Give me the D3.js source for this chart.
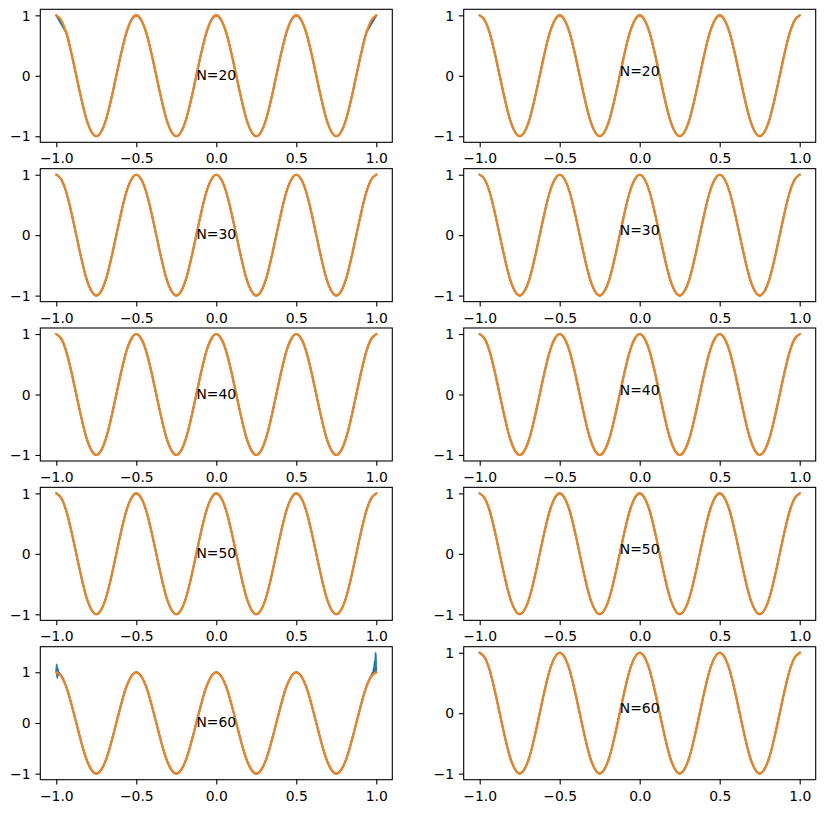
<!DOCTYPE html>
<html>
<head>
<meta charset="utf-8">
<script src="https://cdn.jsdelivr.net/npm/d3@7"></script>
<style>
  body { margin: 0; background: #fff; }
  svg { display: block; }
  text { font-family: "DejaVu Sans", sans-serif; }
</style>
</head>
<body>
<div id="chart"></div>
<script>
// one label per row, rows go N=20..60
const nValues = [20, 30, 40, 50, 60];
const xTicks = [-1, -0.5, 0, 0.5, 1];
const yTicks = [-1, 0, 1];

// sample grid, step 1/32 from -1 to 1
const sampleX = d3.range(65).map(i => -1 + i / 32);
// curve heights at each sample
const exactY = [
  1, 0.92, 0.71, 0.38, 0, -0.38, -0.71, -0.92, -1, -0.92, -0.71, -0.38, 0, 0.38, 0.71, 0.92,
  1, 0.92, 0.71, 0.38, 0, -0.38, -0.71, -0.92, -1, -0.92, -0.71, -0.38, 0, 0.38, 0.71, 0.92,
  1, 0.92, 0.71, 0.38, 0, -0.38, -0.71, -0.92, -1, -0.92, -0.71, -0.38, 0, 0.38, 0.71, 0.92,
  1, 0.92, 0.71, 0.38, 0, -0.38, -0.71, -0.92, -1, -0.92, -0.71, -0.38, 0, 0.38, 0.71, 0.92,
  1
];

// where the blue (interpolated) curve leaves the orange one, left column only
const edgeN20Left = [[-1, 1], [-0.99, 0.955], [-0.98, 0.91], [-0.97, 0.865], [-0.96, 0.82], [-0.95, 0.775]];
const edgeN20Right = [[0.95, 0.775], [0.96, 0.82], [0.97, 0.865], [0.98, 0.91], [0.99, 0.955], [1, 1]];
const edgeN60Left = [[-1, 1.0], [-0.997, 1.15], [-0.994, 0.89], [-0.991, 1.07], [-0.987, 0.95],
  [-0.983, 0.99], [-0.975, 0.955], [-0.965, 0.91]];
const edgeN60Right = [[0.965, 0.91], [0.972, 0.95], [0.976, 0.99], [0.98, 0.95], [0.984, 1.08],
  [0.987, 0.99], [0.99, 1.22], [0.993, 1.01], [0.996, 1.385], [0.998, 1.05], [1, 1.0]];

const width = 825, height = 813;
const colX = [40.3, 463.7];
const axW = 352, axH = 133;
const rowStep = 159.35, rowTop = 9.3;
const fontSize = 13.9;
const tickLen = 4.86;

const basePoints = sampleX.map((x, i) => [x, exactY[i]]);

let blueFor = (row, col) => {
  if (col !== 0) return basePoints;
  let edges = null;
  if (nValues[row] === 20) edges = [edgeN20Left, edgeN20Right];
  if (nValues[row] === 60) edges = [edgeN60Left, edgeN60Right];
  if (!edges) return basePoints;
  let lo = edges[0][edges[0].length - 1][0];
  let hi = edges[1][0][0];
  let mid = basePoints.filter(p => p[0] > lo && p[0] < hi);
  return edges[0].concat(mid, edges[1]);
};

let svg = d3.select("#chart")
  .append("svg")
  .attr("width", width)
  .attr("height", height);

let line = (x, y) => d3.line()
  .x(d => x(d[0]))
  .y(d => y(d[1]))
  .curve(d3.curveMonotoneX);

nValues.forEach((n, row) => {
  [0, 1].forEach(col => {
    let blue = blueFor(row, col);
    let all = blue.concat(basePoints);
    let ext = d3.extent(all, d => d[1]);
    let padY = (ext[1] - ext[0]) * 0.05;

    let x = d3.scaleLinear().domain([-1.1, 1.1]).range([0, axW]);
    let y = d3.scaleLinear().domain([ext[0] - padY, ext[1] + padY]).range([axH, 0]);

    let g = svg.append("g")
      .attr("transform", "translate(" + colX[col] + "," + (rowTop + row * rowStep) + ")");

    g.append("path")
      .attr("d", line(x, y)(blue))
      .attr("fill", "none")
      .attr("stroke", "#1f77b4")
      .attr("stroke-width", 2.08)
      .attr("stroke-linejoin", "round")
      .attr("stroke-linecap", "square");

    g.append("path")
      .attr("d", line(x, y)(basePoints))
      .attr("fill", "none")
      .attr("stroke", "#ff7f0e")
      .attr("stroke-width", 2.08)
      .attr("stroke-linejoin", "round")
      .attr("stroke-linecap", "square");

    let xAxis = g.append("g")
      .attr("transform", "translate(0," + axH + ")")
      .call(d3.axisBottom(x).tickValues(xTicks).tickFormat(d3.format(".1f"))
        .tickSize(tickLen).tickPadding(tickLen));

    let yAxis = g.append("g")
      .call(d3.axisLeft(y).tickValues(yTicks).tickFormat(d3.format("d"))
        .tickSize(tickLen).tickPadding(tickLen));

    [xAxis, yAxis].forEach(a => {
      a.select(".domain").remove();
      a.selectAll("line").attr("stroke", "#000").attr("stroke-width", 1.1);
      a.selectAll("text")
        .attr("fill", "#000")
        .style("font-size", fontSize + "px")
        .style("font-family", "DejaVu Sans");
    });
    xAxis.selectAll("text").attr("dy", "0.81em");
    yAxis.selectAll("text").attr("dy", "0.34em");

    g.append("rect")
      .attr("width", axW)
      .attr("height", axH)
      .attr("fill", "none")
      .attr("stroke", "#000")
      .attr("stroke-width", 1.1);

    g.append("text")
      .attr("x", x(0))
      .attr("y", y(0) + (col === 0 ? 4 : 0))
      .attr("text-anchor", "middle")
      .attr("fill", "#000")
      .style("font-size", fontSize + "px")
      .text("N=" + n);
  });
});
</script>
</body>
</html>
